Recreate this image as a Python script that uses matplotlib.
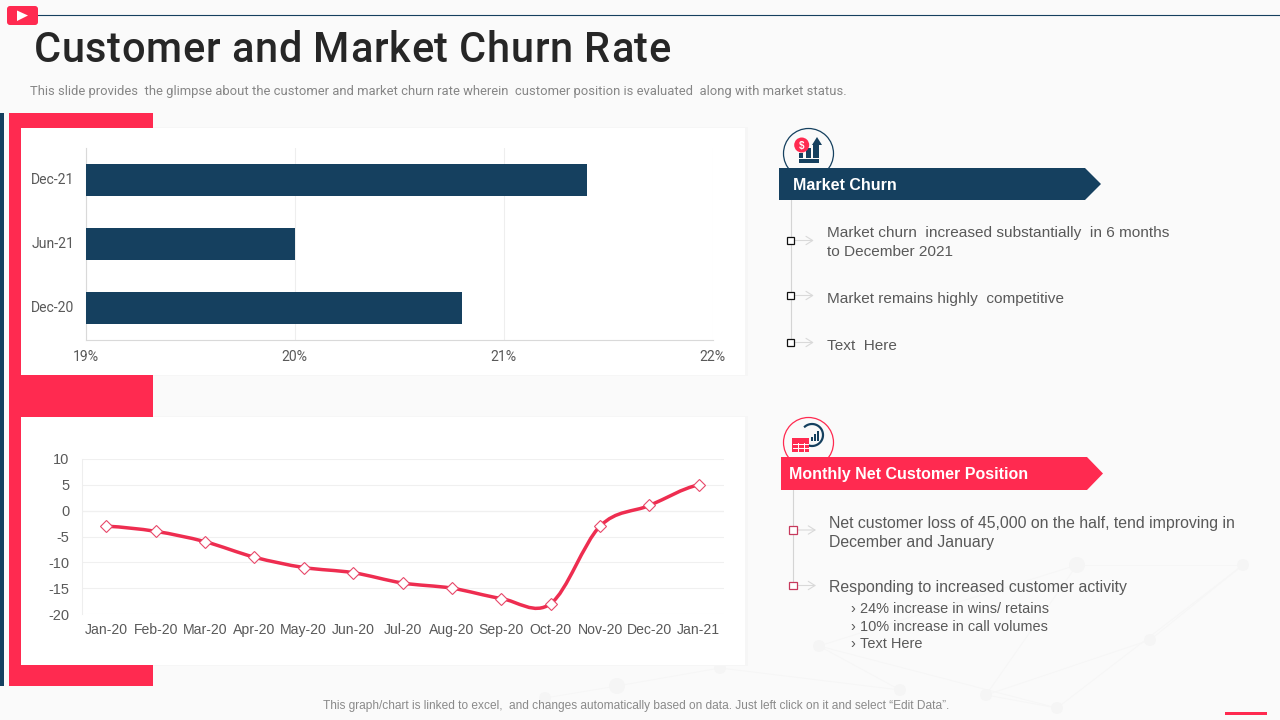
import numpy as np
import matplotlib
matplotlib.use('Agg')
import matplotlib.pyplot as plt
from matplotlib.patches import Rectangle, Polygon, Circle, FancyBboxPatch, PathPatch
from matplotlib.path import Path
from matplotlib.transforms import ScaledTranslation

# chart values
bar_labels = ['Dec-20', 'Jun-21', 'Dec-21']
bar_values = [20.8, 20.0, 21.4]
bar_ticks = [19, 20, 21, 22]

months = ['Jan-20', 'Feb-20', 'Mar-20', 'Apr-20', 'May-20', 'Jun-20', 'Jul-20',
          'Aug-20', 'Sep-20', 'Oct-20', 'Nov-20', 'Dec-20', 'Jan-21']
net_position = [-3, -4, -6, -9, -11, -12, -14, -15, -17, -18, -3, 1, 5]
net_ticks = [-20, -15, -10, -5, 0, 5, 10]

NAVY = '#15405F'
RED = '#FF2A50'
W, H = 1280, 720

fig = plt.figure(figsize=(12.8, 7.2), dpi=100, facecolor='#FAFAFA')

# whole slide in pixel coordinates
bg = fig.add_axes([0, 0, 1, 1])
bg.set_xlim(0, W)
bg.set_ylim(H, 0)
bg.axis('off')


def px(size):
    return size * 0.72


def axes_at(x0, y0, x1, y1):
    ax = fig.add_axes([x0 / W, 1 - y1 / H, (x1 - x0) / W, (y1 - y0) / H])
    ax.patch.set_alpha(0)
    return ax


def rect(x0, y0, x1, y1, color, z=1):
    bg.add_patch(Rectangle((x0, y0), x1 - x0, y1 - y0, fc=color, ec='none', zorder=z))


def label(x, y, s, size, color='#595959', family='Liberation Sans', **kw):
    kw.setdefault('va', 'center')
    return bg.text(x, y, s, fontsize=px(size), color=color, family=family, zorder=6, **kw)


def spaced_label(x, y, s, size, total_width, **kw):
    # matplotlib has no letter spacing, so the title goes char by char
    probe = label(x, y, s, size, **kw)
    rend = fig.canvas.get_renderer()
    natural = probe.get_window_extent(rend).width
    probe.remove()
    extra = (total_width - natural) / (len(s) - 1)
    for i, ch in enumerate(s):
        if i:
            p = label(x, y, s[:i + 1], size, **kw)
            q = label(x, y, ch, size, **kw)
            offset = p.get_window_extent(rend).width - q.get_window_extent(rend).width
            p.remove()
            q.remove()
        else:
            offset = 0
        if ch != ' ':
            label(x + offset + i * extra, y, ch, size, **kw)


# faint network pattern behind the slide
nodes = [(617, 686), (819, 646), (986, 695), (1057, 708), (1077, 565), (1243, 565),
         (900, 690), (545, 698), (720, 668), (1150, 640)]
links = [(0, 8), (0, 7), (1, 6), (1, 3), (2, 3), (2, 4), (3, 5), (4, 5), (4, 1), (9, 5), (9, 2), (8, 6)]
for a, b in links:
    bg.plot([nodes[a][0], nodes[b][0]], [nodes[a][1], nodes[b][1]], color='#F6F6F6', lw=0.7, zorder=0)
for i, (nx, ny) in enumerate(nodes):
    bg.add_patch(Circle((nx, ny), 8 if i in (0, 4) else 6, fc='#F5F5F5', ec='none', zorder=0))

# header
bg.plot([38, W], [15, 15], color=NAVY, lw=0.8, zorder=2)
bg.add_patch(FancyBboxPatch((9, 8), 27, 15, boxstyle='round,pad=2,rounding_size=3', fc=RED, ec='none', zorder=3))
bg.add_patch(Polygon([[17, 10.5], [17, 21], [28, 15.5]], fc='white', ec='none', zorder=4))
spaced_label(33.5, 50, 'Customer and Market Churn Rate', 41.5, 637, color='#262626', family='Roboto', fontweight='medium')
label(30, 91, 'This slide provides  the glimpse about the customer and market churn rate wherein  customer position is evaluated  along with market status.',
      13.05, color='#868686', family='Roboto')

# left frame and cards
rect(0, 113, 4, 686, NAVY)
rect(9, 113, 153, 686, RED)
for top, bot in [(128, 375), (417, 665)]:
    rect(153, top - 1, 748, bot + 1, '#F6F6F6', z=1)
    rect(21, top, 745, bot, 'white', z=2)

# bar chart
ax1 = axes_at(85.5, 148, 712.5, 340)
ax1.barh(range(len(bar_labels)), np.array(bar_values) - 19, left=19, height=0.5, color=NAVY, zorder=3)
ax1.set_xlim(19, 22)
ax1.set_ylim(-0.5, 2.5)
ax1.set_xticks(bar_ticks)
ax1.set_xticklabels([f'{t}%' for t in bar_ticks], fontsize=px(14), color='#595959', family='Roboto')
ax1.set_yticks(range(len(bar_labels)))
ax1.set_yticklabels(bar_labels, fontsize=px(14), color='#595959', family='Roboto')
ax1.tick_params(length=0, axis='x', pad=7)
ax1.tick_params(length=0, axis='y', pad=8)
up = ScaledTranslation(0, 2 / 100, fig.dpi_scale_trans)
for t in ax1.get_yticklabels():
    t.set_transform(t.get_transform() + up)
ax1.grid(axis='x', color='#EEEEEE', lw=0.8, zorder=0)
for s in ['top', 'right']:
    ax1.spines[s].set_visible(False)
ax1.spines['left'].set_color('#D9D9D9')
ax1.spines['bottom'].set_color('#D9D9D9')

# line chart
ax2 = axes_at(81.5, 459, 723.5, 614)
x = np.arange(len(months))
y = np.array(net_position, dtype=float)
# smoothed line like the office chart, one bezier per month
verts = [(x[0], y[0])]
codes = [Path.MOVETO]
for i in range(len(x) - 1):
    p0 = y[max(i - 1, 0)]
    p3 = y[min(i + 2, len(y) - 1)]
    verts += [(x[i] + 1 / 3, y[i] + (y[i + 1] - p0) / 6),
              (x[i + 1] - 1 / 3, y[i + 1] - (p3 - y[i]) / 6),
              (x[i + 1], y[i + 1])]
    codes += [Path.CURVE4] * 3
ax2.add_patch(PathPatch(Path(verts, codes), fc='none', ec='#EE2D50', lw=2.5, zorder=3, capstyle='round'))
ax2.plot(x, y, ls='none', marker='D', ms=6.2, mfc='white', mec='#E8496A', mew=0.8, zorder=4, clip_on=False)
ax2.set_xlim(-0.5, len(months) - 0.5)
ax2.set_ylim(-20, 10)
ax2.set_xticks(x)
ax2.set_xticklabels(months, fontsize=px(14), color='#595959', family='Liberation Sans')
ax2.set_yticks(net_ticks)
ax2.set_yticklabels(net_ticks, fontsize=px(14.5), color='#595959', family='Liberation Sans')
ax2.tick_params(length=0, axis='x', pad=6.5)
ax2.tick_params(length=0, axis='y', pad=8.6)
ax2.grid(axis='y', color='#F0F0F0', lw=0.8, zorder=0)
ax2.axhline(0, color='#DDDDDD', lw=0.8, zorder=1)
for s in ['top', 'right', 'bottom']:
    ax2.spines[s].set_visible(False)
ax2.spines['left'].set_color('#EEEEEE')


def banner(x0, y0, x1, y1, color, title, tx):
    bg.add_patch(Polygon([[x0, y0], [x1 - 16, y0], [x1, (y0 + y1) / 2], [x1 - 16, y1], [x0, y1]],
                         fc=color, ec='none', zorder=3))
    label(tx, (y0 + y1) / 2 + 1.5, title, 16, color='white', fontweight='bold')


def bullet(cx, cy, color, size):
    # little square with the grey arrow next to it
    bg.add_patch(Rectangle((cx - size / 2, cy - size / 2), size, size, fc='white', ec=color, lw=0.9, zorder=5))
    bg.annotate('', xy=(cx + 23, cy), xytext=(cx + size / 2, cy),
                arrowprops=dict(arrowstyle='->,head_width=0.25,head_length=0.4', color='#D9D9D9', lw=0.8,
                                mutation_scale=12, shrinkA=0, shrinkB=0),
                zorder=4)


# market churn panel
bg.add_patch(Circle((808.5, 153.5), 25, fc='none', ec=NAVY, lw=0.9, zorder=2))
rect(799, 153, 803, 158, NAVY, z=4)
rect(806, 148, 811, 158, NAVY, z=4)
bg.add_patch(Polygon([[817, 137], [822, 145], [819, 145], [819, 158], [813, 158], [813, 145], [812, 145]],
                     fc=NAVY, ec='none', zorder=4))
rect(799, 159, 819, 163, NAVY, z=4)
bg.add_patch(Circle((801.7, 145), 7.5, fc=RED, ec='none', zorder=5))
label(801.7, 145.5, '$', 10, color='white', fontweight='bold', ha='center')
banner(779, 168, 1101, 200, NAVY, 'Market Churn', 793)
bg.plot([790.7, 790.7], [200, 343], color='#D4D4D4', lw=0.8, zorder=2)
for cy in [240.5, 295.5, 342.5]:
    bullet(790.7, cy, '#111111', 7)
label(827, 233.5, 'Market churn  increased substantially  in 6 months', 15.4)
label(827, 252.5, 'to December 2021', 15.4)
label(827, 298.5, 'Market remains highly  competitive', 15.4)
label(827, 345.5, 'Text  Here', 15.4)

# customer position panel
bg.add_patch(Circle((808.5, 442.5), 25, fc='none', ec=RED, lw=0.9, zorder=2))
arc_t = np.radians(np.linspace(-130, 120, 40))
bg.plot(812 + 11 * np.cos(arc_t), 435 + 11 * np.sin(arc_t), color=NAVY, lw=1.6, zorder=3)
for bx, bh in [(811, 4), (814, 7), (817, 10)]:
    rect(bx, 441 - bh, bx + 2, 441, NAVY, z=4)
rect(792, 438, 809, 452, RED, z=4)
for gy in [443.5, 447.5]:
    bg.plot([793, 808], [gy, gy], color='white', lw=0.7, zorder=5)
for gx in [797.5, 803.5]:
    bg.plot([gx, gx], [443, 451], color='white', lw=0.7, zorder=5)
banner(781, 457, 1103, 490, RED, 'Monthly Net Customer Position', 789)
bg.plot([792.5, 792.5], [490, 585], color='#D4D4D4', lw=0.8, zorder=2)
for cy in [530, 585.5]:
    bullet(793, cy, '#C7395C', 7.5)
label(829, 523.5, 'Net customer loss of 45,000 on the half, tend improving in', 15.95)
label(829, 542.5, 'December and January', 15.95)
label(829, 587.5, 'Responding to increased customer activity', 15.85)
for ty, s in [(609, '24% increase in wins/ retains'), (627, '10% increase in call volumes'), (644, 'Text Here')]:
    label(850, ty, '›', 14.5)
    label(860, ty, s, 14.5)

# footer
label(636, 706, 'This graph/chart is linked to excel,  and changes automatically based on data. Just left click on it and select \u201cEdit Data\u201d.',
      11.95, color='#8A8A8A', ha='center')
rect(1225, 712, 1267, 715, RED, z=3)

fig.savefig('out.png', dpi=100)
